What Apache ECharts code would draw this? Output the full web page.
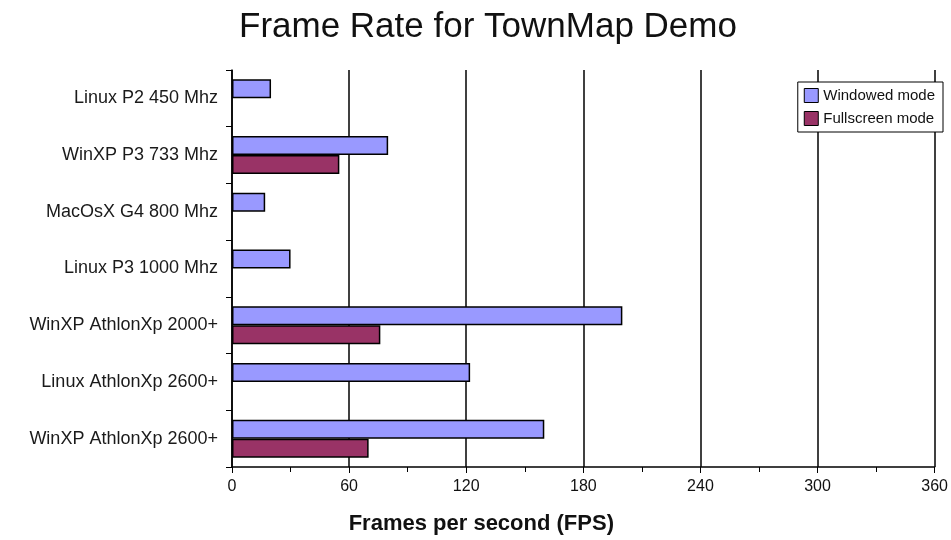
<!DOCTYPE html>
<html>
<head>
<meta charset="utf-8">
<script src="https://cdn.jsdelivr.net/npm/echarts@6/dist/echarts.min.js"></script>
<style>
  html, body { margin: 0; padding: 0; background: #fff; }
  #main { width: 951px; height: 540px; }
</style>
</head>
<body>
<div id="main"></div>
<script>
  var categories = ['Linux P2 450 Mhz', 'WinXP P3 733 Mhz', 'MacOsX G4 800 Mhz', 'Linux P3 1000 Mhz',
    'WinXP AthlonXp 2000+', 'Linux AthlonXp 2600+', 'WinXP AthlonXp 2600+']
  var windowed = [20, 80, 17, 30, 200, 122, 160]
  var fullscreen = ['-', 55, '-', '-', 76, '-', 70]
  var xTicks = [0, 60, 120, 180, 240, 300, 360]

  var chart = echarts.init(document.getElementById('main'))
  var option = {
    animation: false,
    textStyle: { fontFamily: 'Liberation Sans, Arial, sans-serif' },
    title: {
      text: 'Frame Rate for TownMap Demo',
      left: 234,
      top: 5,
      textStyle: { fontSize: 35, fontWeight: 'normal', color: '#111' }
    },
    legend: {
      orient: 'vertical',
      right: 8,
      top: 82,
      icon: 'rect',
      itemWidth: 14,
      itemHeight: 14,
      itemGap: 8,
      padding: [6, 8, 6, 6],
      borderColor: '#000',
      borderWidth: 1,
      backgroundColor: '#fff',
      textStyle: { fontSize: 15, color: '#111' },
      data: [
        { name: 'Windowed mode', itemStyle: { borderColor: '#000', borderWidth: 1 } },
        { name: 'Fullscreen mode', itemStyle: { borderColor: '#000', borderWidth: 1 } }
      ]
    },
    grid: { left: 232, right: 16, top: 70, bottom: 72 },
    xAxis: {
      type: 'value',
      min: xTicks[0],
      max: xTicks[xTicks.length - 1],
      interval: 60,
      name: 'Frames per second (FPS)',
      nameLocation: 'middle',
      nameGap: 46,
      nameTextStyle: { fontSize: 22, fontWeight: 'bold', color: '#111', padding: [0, 204, 0, 0] },
      axisLine: { show: true, lineStyle: { color: '#000', width: 1.5 } },
      axisTick: { show: true, length: 6, lineStyle: { color: '#000' } },
      minorTick: { show: true, splitNumber: 2, length: 5, lineStyle: { color: '#000' } },
      axisLabel: { fontSize: 16, color: '#111', margin: 12 },
      splitLine: { show: true, lineStyle: { color: '#000', width: 1.5 } }
    },
    yAxis: {
      type: 'category',
      inverse: true,
      data: categories,
      axisLine: { show: true, lineStyle: { color: '#000', width: 1.5 } },
      axisTick: { show: true, length: 6, lineStyle: { color: '#000' } },
      axisLabel: { fontSize: 18, color: '#1a1a1a', margin: 14 },
      splitLine: { show: false }
    },
    series: [
      {
        name: 'Windowed mode',
        type: 'bar',
        barWidth: 19,
        barGap: '0%',
        itemStyle: { color: '#9999ff', borderColor: '#000', borderWidth: 1.5 },
        data: windowed
      },
      {
        name: 'Fullscreen mode',
        type: 'bar',
        barWidth: 19,
        barGap: '0%',
        itemStyle: { color: '#993366', borderColor: '#000', borderWidth: 1.5 },
        data: fullscreen
      }
    ]
  }
  chart.setOption(option)
</script>
</body>
</html>
